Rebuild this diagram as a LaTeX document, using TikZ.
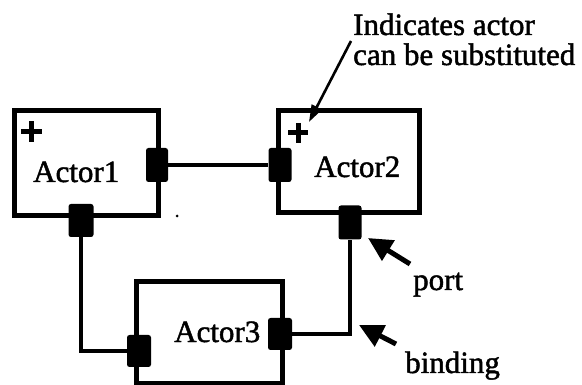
\documentclass[tikz,border=0pt]{standalone}
\usepackage{fontspec}
\setmainfont[FakeBold=1.5]{Liberation Serif}
\usetikzlibrary{arrows.meta}

\tikzset{
  actorbox/.style={draw, line width=5pt, rectangle, inner sep=0pt},
  portbox/.style={fill=black, rectangle, rounded corners=2.5pt, inner sep=0pt,
                  minimum width=23pt, minimum height=34pt},
  wire/.style={line width=4.4pt},
  lbl/.style={inner sep=0pt, anchor=base west, font=\fontsize{31}{31}\selectfont},
  pointer/.style={line width=5pt, -{Triangle[length=24pt, width=23pt]}},
  thinpointer/.style={line width=2.6pt, -{Triangle[length=17pt, width=11pt]}},
  plusmark/.style={line width=5pt},
}

\begin{document}
\begin{tikzpicture}[x=1pt, y=-1pt]
  \useasboundingbox (0,0) rectangle (582,385);

  % actor boxes
  \node[actorbox, minimum width=144pt, minimum height=105pt] (a1) at (86,163) {};
  \node[actorbox, minimum width=141pt, minimum height=102pt] (a2) at (348.5,161.5) {};
  \node[actorbox, minimum width=146pt, minimum height=102pt] (a3) at (209,332.5) {};

  % actor names
  \node[lbl] (t1) at (33,182) {Actor1};
  \node[lbl] (t2) at (314,177) {Actor2};
  \node[lbl] (t3) at (174,342) {Actor3};

  % substitution marks
  \draw[plusmark] (21,132) -- (42,132) (31.5,121.5) -- (31.5,142.5);
  \draw[plusmark] (288,133) -- (308,133) (298,123) -- (298,143);
  \coordinate (plus2) at (309,122);

  % ports
  \node[portbox, minimum width=22pt] (p1r) at (157,165) {};
  \node[portbox, minimum width=25pt, minimum height=33pt] (p1b) at (81,220.5) {};
  \node[portbox] (p2l) at (280,165) {};
  \node[portbox] (p2b) at (350,222.5) {};
  \node[portbox, minimum width=24pt, minimum height=32pt] (p3l) at (139,351) {};
  \node[portbox, minimum width=24pt, minimum height=32pt] (p3r) at (280,334) {};

  % bindings
  \draw[wire] (p1r.east) -- (p2l.west);
  \draw[wire] (p1b.south) |- (p3l.west);
  \draw[wire] (p3r.east) -| (p2b.south);

  % stray speck
  \fill (177,216) circle (1.5pt);

  % annotations
  \node[lbl] (n1) at (353,35) {Indicates actor};
  \node[lbl] (n2) at (353,65) {can be substituted};
  \node[lbl] (nport) at (413,290) {port};
  \node[lbl] (nbind) at (405,373) {binding};

  \coordinate (portTail) at (410,264);
  \coordinate (portTip) at (368,238);
  \coordinate (bindTail) at (396,344);
  \coordinate (bindTip) at (359,325);
  \coordinate (noteTail) at (351,41);

  \draw[pointer] (portTail) -- (portTip);
  \draw[pointer] (bindTail) -- (bindTip);
  \draw[thinpointer] (noteTail) -- (plus2);
\end{tikzpicture}
\end{document}
